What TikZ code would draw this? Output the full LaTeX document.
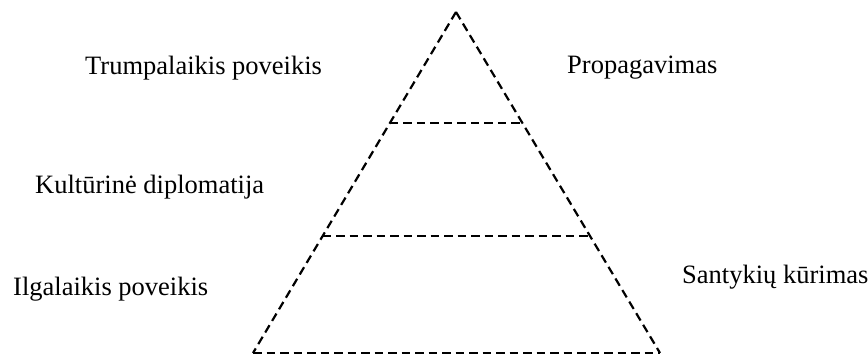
\documentclass[tikz,border=0pt]{standalone}
\usepackage{fontspec}
\setmainfont{Liberation Serif}
\usetikzlibrary{calc}

\tikzset{
    cut/.style={line width=2.2pt, dash pattern=on 8.5pt off 5pt},
    lbl/.style={anchor=base west, inner sep=0pt, font=\fontsize{26.5}{30}\selectfont}
}

\begin{document}
\begin{tikzpicture}[x=1pt, y=-1pt]
    \useasboundingbox (0,0) rectangle (868,356);

    % piramidės kampai
    \coordinate (apex) at (456,12);
    \coordinate (bl) at (253,353);
    \coordinate (br) at (660,353);

    % sluoksnių ribos
    \coordinate (l1) at ($(apex)!0.3255!(bl)$);
    \coordinate (r1) at ($(apex)!0.3255!(br)$);
    \coordinate (l2) at ($(apex)!0.657!(bl)$);
    \coordinate (r2) at ($(apex)!0.657!(br)$);

    \draw[cut] (apex) -- (bl);
    \draw[cut] (apex) -- (br);
    \draw[cut] (l1) -- (r1);
    \draw[cut] (l2) -- (r2);
    \draw[cut] (bl) -- (br);

    % užrašai
    \node[lbl] (trump) at (85,74) {Trumpalaikis poveikis};
    \node[lbl] (prop) at (567,73) {Propagavimas};
    \node[lbl] (kult) at (35,193) {Kultūrinė diplomatija};
    \node[lbl] (ilg) at (13,295) {Ilgalaikis poveikis};
    \node[lbl] (sant) at (682,283) {Santykių kūrimas};
\end{tikzpicture}
\end{document}
